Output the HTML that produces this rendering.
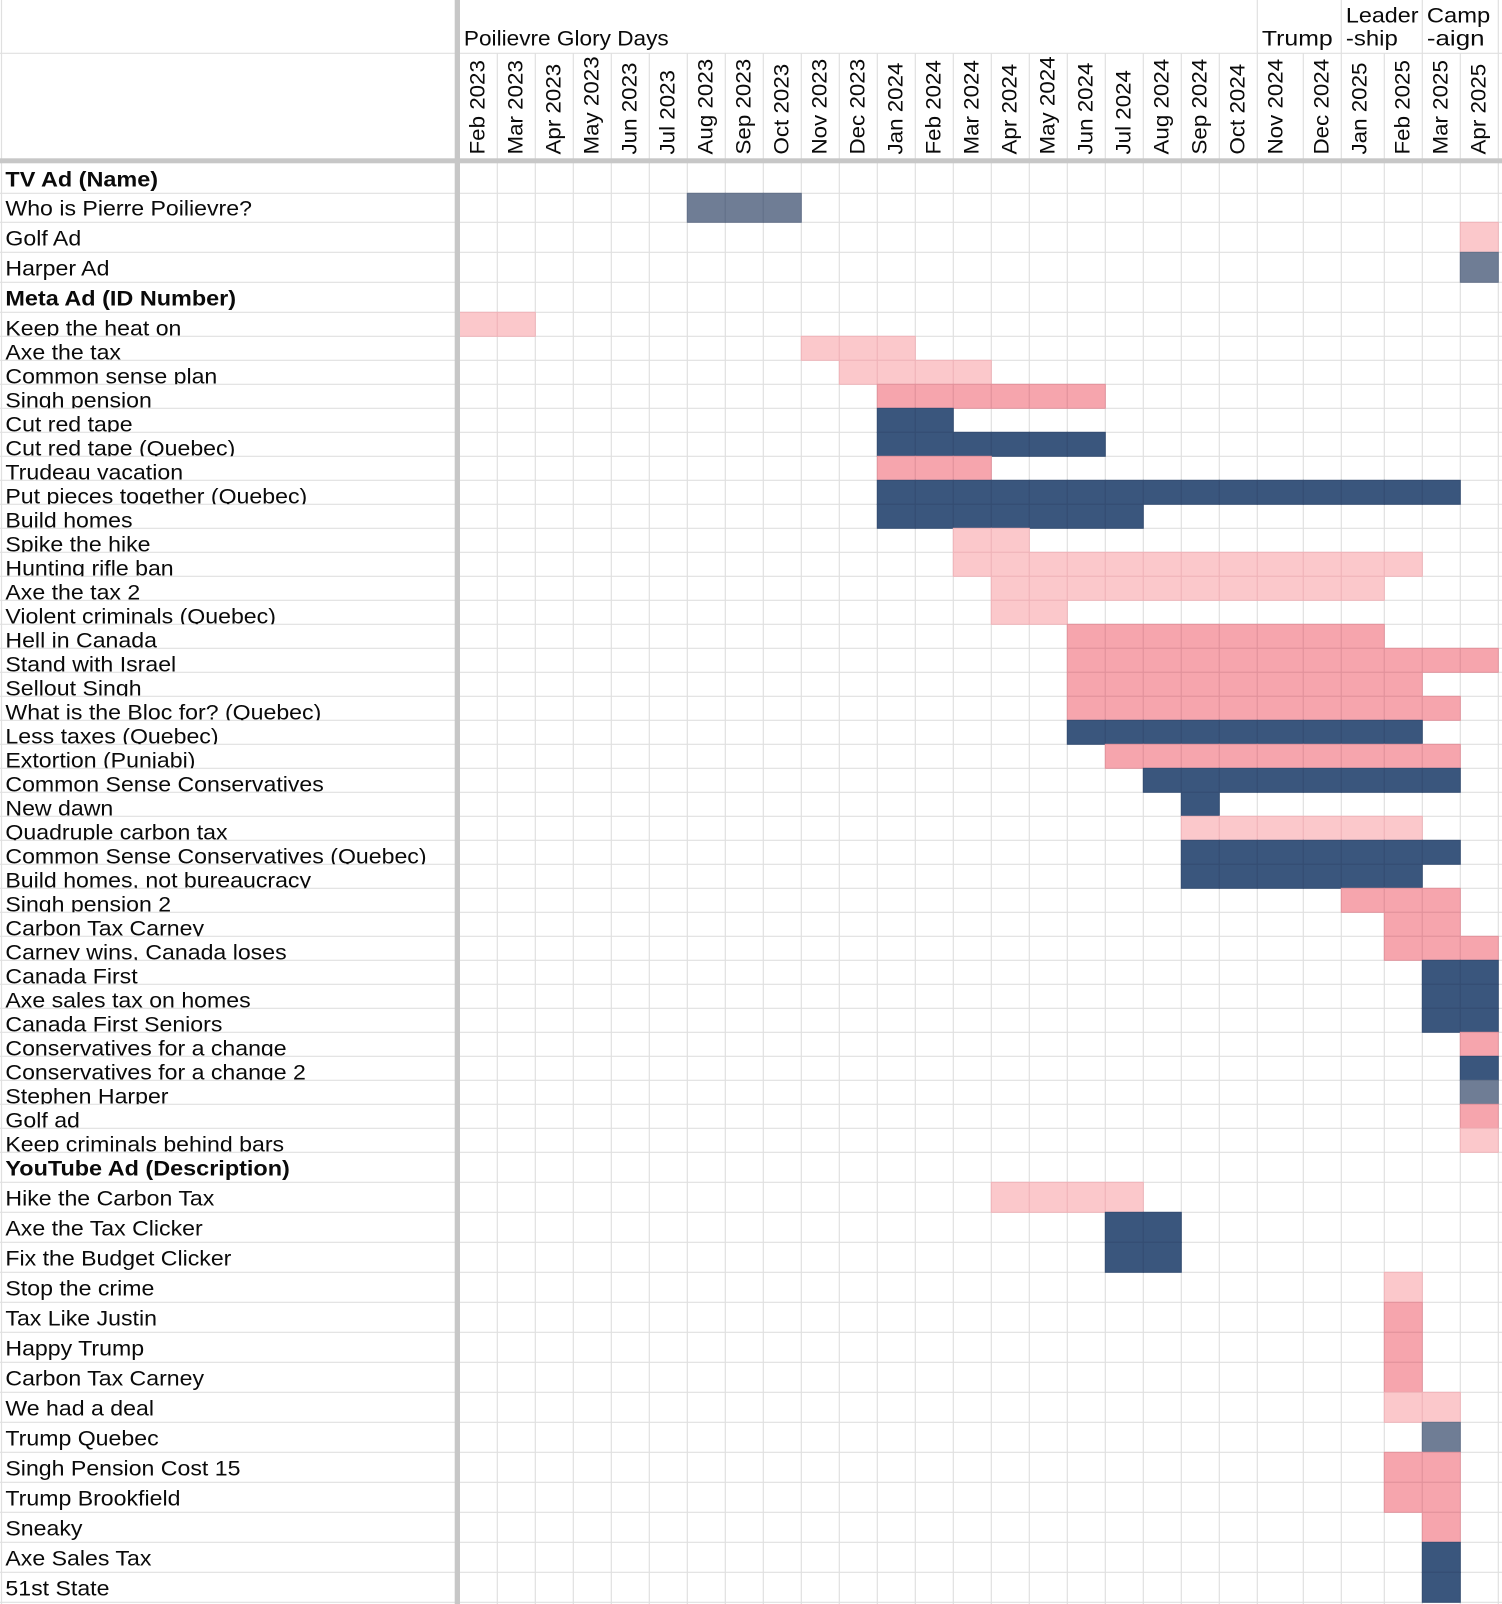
<!DOCTYPE html>
<html lang="en">
<head>
<meta charset="utf-8">
<title>Conservative ad timeline</title>
<style>
html,body{margin:0;padding:0;background:#fff;width:1502px;height:1604px;overflow:hidden}
svg{display:block}
text{font-family:"Liberation Sans",sans-serif;font-size:21.6px;fill:#0a0a0a}
.bold{font-weight:700}
</style>
</head>
<body>
<svg id="chart" width="1502" height="1604" viewBox="0 0 1502 1604" xmlns="http://www.w3.org/2000/svg"></svg>
<script>
const months = ["Feb 2023","Mar 2023","Apr 2023","May 2023","Jun 2023","Jul 2023","Aug 2023","Sep 2023","Oct 2023","Nov 2023","Dec 2023","Jan 2024","Feb 2024","Mar 2024","Apr 2024","May 2024","Jun 2024","Jul 2024","Aug 2024","Sep 2024","Oct 2024","Nov 2024","Dec 2024","Jan 2025","Feb 2025","Mar 2025","Apr 2025"];
const periodNames = [["Poilievre Glory Days"],["Trump"],["Leader","-ship"],["Camp","-aign"]];
const periodStarts = [0,21,23,25];
const periodEnds = [20,22,24,26];
const sectionNames = ["TV Ad (Name)","Meta Ad (ID Number)","YouTube Ad (Description)"];

const tvAds = ["Who is Pierre Poilievre?","Golf Ad","Harper Ad"];
const tvStart = [6,26,26];
const tvEnd = [8,26,26];
const tvTone = ["slate","light","slate"];

const metaAds = ["Keep the heat on","Axe the tax","Common sense plan","Singh pension","Cut red tape","Cut red tape (Quebec)","Trudeau vacation","Put pieces together (Quebec)","Build homes","Spike the hike","Hunting rifle ban","Axe the tax 2","Violent criminals (Quebec)","Hell in Canada","Stand with Israel","Sellout Singh","What is the Bloc for? (Quebec)","Less taxes (Quebec)","Extortion (Punjabi)","Common Sense Conservatives","New dawn","Quadruple carbon tax","Common Sense Conservatives (Quebec)","Build homes, not bureaucracy","Singh pension 2","Carbon Tax Carney","Carney wins, Canada loses","Canada First","Axe sales tax on homes","Canada First Seniors","Conservatives for a change","Conservatives for a change 2","Stephen Harper","Golf ad","Keep criminals behind bars"];
const metaStart = [0,9,10,11,11,11,11,11,11,13,13,14,14,16,16,16,16,16,17,18,19,19,19,19,23,24,24,25,25,25,26,26,26,26,26];
const metaEnd = [1,11,13,16,12,16,13,25,17,14,24,23,15,23,26,24,25,24,25,25,19,24,25,24,25,25,26,26,26,26,26,26,26,26,26];
const metaTone = ["light","light","light","pink","navy","navy","pink","navy","navy","light","light","light","light","pink","pink","pink","pink","navy","pink","navy","navy","light","navy","navy","pink","pink","pink","navy","navy","navy","pink","navy","slate","pink","light"];

const youtubeAds = ["Hike the Carbon Tax","Axe the Tax Clicker","Fix the Budget Clicker","Stop the crime","Tax Like Justin","Happy Trump","Carbon Tax Carney","We had a deal","Trump Quebec","Singh Pension Cost 15","Trump Brookfield","Sneaky","Axe Sales Tax","51st State"];
const youtubeStart = [14,17,17,24,24,24,24,24,25,24,24,25,25,25];
const youtubeEnd = [17,18,18,24,24,24,24,25,25,25,25,25,25,25];
const youtubeTone = ["light","navy","navy","light","pink","pink","pink","light","slate","pink","pink","pink","navy","navy"];

const NS = "http://www.w3.org/2000/svg";
const chart = document.getElementById("chart");
const toneFill = {light:"#fbc8cb",pink:"#f6a5ad",slate:"#6f7d95",navy:"#3a567d"};
const toneEdge = {light:"#efb3b8",pink:"#e1919b",slate:"#637189",navy:"#344d72"};
const periodStretch = {"Poilievre Glory Days":1.047,"Trump":1.15,"Leader":1.08,"-ship":1.11,"Camp":1.1,"-aign":1.2};
const GRID = "#e0e0e0";
const BAR = "#c7c7c7";

function make(tag, attrs, parent){
  const el = document.createElementNS(NS, tag);
  for (const k in attrs) el.setAttribute(k, attrs[k]);
  (parent || chart).appendChild(el);
  return el;
}
function colWidth(i){
  if (months[i] === "Nov 2024") return 46;
  if (months[i] === "Jan 2025") return 43;
  return 38;
}
function xScale(i){
  let x = 459.3;
  for (let k = 0; k < i; k++) x += colWidth(k);
  return x;
}
function slug(s){ return s.toLowerCase().replace(/[^a-z0-9]+/g,"-").replace(/^-|-$/g,""); }

const rows = [];
function addSection(title, names, starts, ends, tones, h, firstH){
  rows.push({label:title, bold:true, h:30});
  names.forEach(function(n,i){
    rows.push({label:n, bold:false, h:(i===0 && firstH) ? firstH : h, start:starts[i], end:ends[i], tone:tones[i]});
  });
}
addSection(sectionNames[0], tvAds, tvStart, tvEnd, tvTone, 30, 29);
addSection(sectionNames[1], metaAds, metaStart, metaEnd, metaTone, 24);
addSection(sectionNames[2], youtubeAds, youtubeStart, youtubeEnd, youtubeTone, 30);

let yCursor = 163.3;
rows.forEach(function(r){ r.y = yCursor; yCursor += r.h; });

const HEADER1 = 53.3, BAR_TOP = 158.3, BAR_BOTTOM = 163.3, PAGE_H = 1604, PAGE_W = 1502;

/* grid */
const grid = make("g", {});


make("line",{x1:1.5,x2:1.5,y1:0,y2:PAGE_H,stroke:GRID,"stroke-width":1.2},grid);
make("line",{x1:0,x2:PAGE_W,y1:HEADER1,y2:HEADER1,stroke:GRID,"stroke-width":1.2},grid);
rows.forEach(function(r){
  const b = r.y + r.h;
  make("line",{x1:0,x2:PAGE_W,y1:b,y2:b,stroke:GRID,"stroke-width":1.2},grid);
});
for (let i = 1; i <= months.length; i++){
  const x = xScale(i);
  make("line",{x1:x,x2:x,y1:HEADER1,y2:PAGE_H,stroke:GRID,"stroke-width":1.2},grid);
}
periodEnds.forEach(function(e){
  const x = xScale(e+1);
  make("line",{x1:x,x2:x,y1:0,y2:HEADER1,stroke:GRID,"stroke-width":1.2},grid);
});

/* cells */
const cells = make("g", {});


rows.forEach(function(r){
  if (r.start === undefined) return;
  for (let m = r.start; m <= r.end; m++){
    const cell = make("rect",{x:xScale(m),y:r.y,width:colWidth(m),height:r.h,fill:toneFill[r.tone],stroke:toneEdge[r.tone],"stroke-width":1},cells);
    
    
  }
});

/* frozen panes */
const frozenV = make("rect",{x:454.7,y:0,width:5.3,height:PAGE_H,fill:BAR});


const frozenH = make("rect",{x:0,y:BAR_TOP,width:PAGE_W,height:BAR_BOTTOM-BAR_TOP,fill:BAR});



/* period labels */
periodNames.forEach(function(lines,p){
  const x = xScale(periodStarts[p]) + 4.6;
  lines.forEach(function(line,i){
    const base = lines.length === 1 ? 45.7 : (i === 0 ? 22.3 : 45.7);
    const t = make("text",{x:0,y:0,transform:"translate("+x+" "+base+") scale("+periodStretch[line]+" 1)"});
    t.textContent = line;
    
    
  });
});

/* month labels */
months.forEach(function(m,i){
  const x = xScale(i) + 25;
  const t = make("text",{x:0,y:0,transform:"translate("+x+" 154.5) rotate(-90) scale(1.035 1)"});
  t.textContent = m;
  
  
});

/* row labels (clipped to their cell, like the sheet) */
rows.forEach(function(r){
  const box = make("svg",{x:2,y:r.y,width:452,height:r.h,overflow:"hidden"});
  
  
  const base = r.h === 24 ? r.h - 1 : r.h - 6.6;
  const stretch = r.bold ? 1.085 : 1.07;
  const t = make("text",{x:0,y:0,transform:"translate(3.4 "+base+") scale("+stretch+" 1)"},box);
  if (r.bold) t.setAttribute("class","bold");
  t.textContent = r.label;
  
  
});
</script>
</body>
</html>
